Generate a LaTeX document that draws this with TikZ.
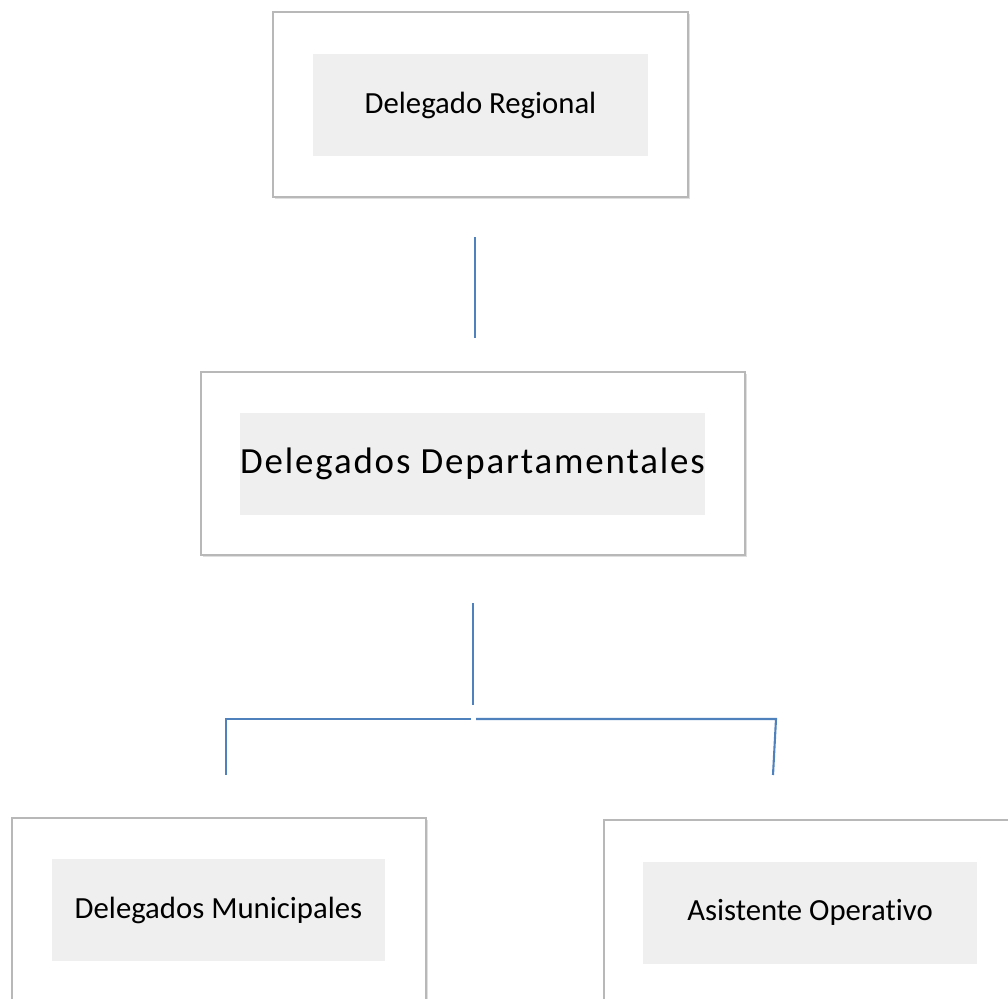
\documentclass[tikz,border=0pt]{standalone}
\usepackage{fontspec}
\setmainfont{Carlito}[Ligatures=NoCommon]
\usetikzlibrary{shadows}
\definecolor{linkblue}{RGB}{79,129,189}
\definecolor{panelgray}{RGB}{239,239,239}
\begin{document}
\begin{tikzpicture}[x=0.02cm,y=-0.02cm,
    outerbox/.style={draw=black!28,line width=1.2pt,fill=white,
      drop shadow={shadow xshift=1pt,shadow yshift=-1pt,opacity=0.25},
      minimum width=#1*0.02cm,minimum height=183*0.02cm,inner sep=0pt},
    innerbox/.style={fill=panelgray,minimum width=#1*0.02cm,
      minimum height=102*0.02cm,inner sep=0pt,
      font=\fontsize{17.5}{21}\selectfont},
    link/.style={linkblue,line width=1.2pt}]
      \useasboundingbox (0,0) rectangle (1008,998);

      % boxes
      \node[outerbox=415,minimum height=185*0.02cm] (regbox) at (480.5,104.5) {};
      \node[innerbox=335] (reg) at (480.5,105) {Delegado Regional};
      \node[outerbox=544] (depbox) at (473,463.5) {};
      \node[innerbox=463,font=\fontsize{21}{25}\selectfont\addfontfeature{LetterSpace=5}]
        (dep) at (472.5,464) {Delegados Departamentales};
      \node[outerbox=414] (munbox) at (219,909.5) {};
      \node[innerbox=333] (mun) at (218.5,910) {Delegados Municipales};
      \node[outerbox=414] (asibox) at (811,911.5) {};
      \node[innerbox=334] (asi) at (810,912.5) {Asistente Operativo};

      % connectors
      \coordinate (r1) at (475,237);
      \coordinate (r2) at (475,338);
      \draw[link] (r1) -- (r2);

      \coordinate (d1) at (473,603);
      \coordinate (d2) at (473,705);
      \draw[link] (d1) -- (d2);

      \coordinate (bl) at (226,719);
      \coordinate (bm1) at (471,719);
      \coordinate (bm2) at (476,719);
      \coordinate (br) at (776,719);
      \coordinate (ml) at (226,775);
      \coordinate (ar) at (773,775);
      \draw[link] (ml) -- (bl) -- (bm1);
      \draw[link] (bm2) -- (br) -- (ar);
\end{tikzpicture}
\end{document}
